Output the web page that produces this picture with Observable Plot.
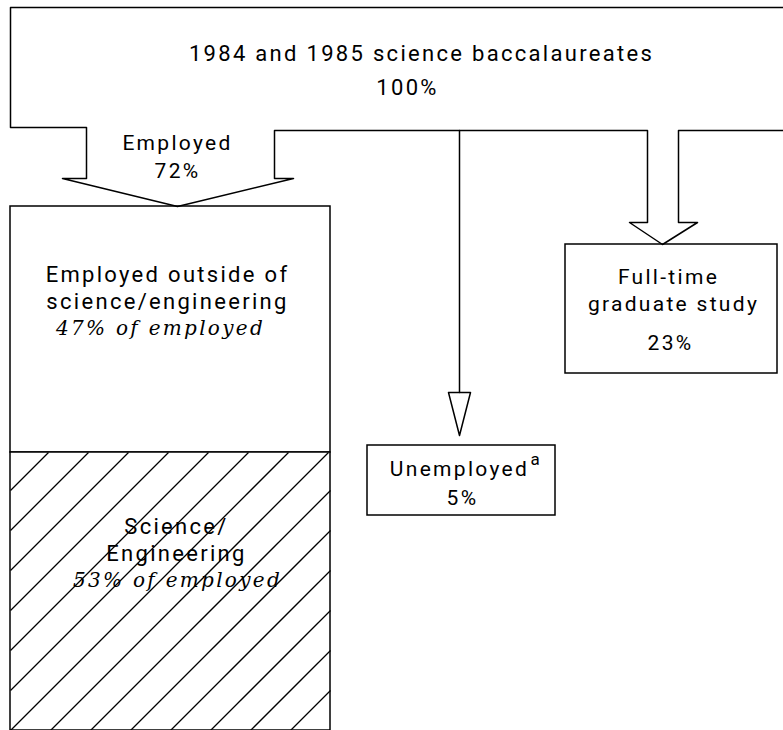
<!DOCTYPE html>
<html>
<head>
<meta charset="utf-8">
<script src="https://cdn.jsdelivr.net/npm/d3@7"></script>
<script src="https://cdn.jsdelivr.net/npm/@observablehq/plot@0.6"></script>
<style>
  html, body { margin: 0; padding: 0; background: #fff; }
  #chart svg { display: block; }
</style>
</head>
<body>
<div id="chart"></div>
<script>
// ---- data ----
const groups = ["All baccalaureates", "Employed", "Unemployed", "Full-time graduate study", "Employed outside of science/engineering", "Science/Engineering"];
const shares = [100, 72, 5, 23, 47, 53];
const titleText = "1984 and 1985 science baccalaureates";
const employedLines = ["Employed"];
const outsideLines = ["Employed outside of", "science/engineering"];
const sciLines = ["Science/", "Engineering"];
const unemployedLines = ["Unemployed"];
const footnoteMark = "a";
const gradLines = ["Full-time", "graduate study"];
const ofEmployed = "of employed";

// ---- layout (diagram geometry in pixel units of the scales) ----
const W = 783, H = 730;
const L = {
  topY: 7, topBottomY: 127, left: 10, rail: 130,
  emp: {shaftL: 86, shaftR: 274, headY: 178, headL: 62, headR: 293, tipX: 177, tipY: 206},
  unemp: {x: 459, headY: 392, headL: 448, headR: 470, tipY: 435},
  grad: {shaftL: 647, shaftR: 678, headY: 222, headL: 629, headR: 697, tipX: 662, tipY: 244},
  empBox: {x1: 10, x2: 330, y1: 206, y2: 730, split: 452},
  unempBox: {x1: 367, x2: 555, y1: 445, y2: 515},
  gradBox: {x1: 565, x2: 777, y1: 244, y2: 373},
  hatch: {start: 500, step: 40}
};

// outline path of the top block with the two wide arrows
const outline = [
  [W, L.topY], [L.left, L.topY], [L.left, L.topBottomY], [L.emp.shaftL, L.topBottomY],
  [L.emp.shaftL, L.emp.headY], [L.emp.headL, L.emp.headY], [L.emp.tipX, L.emp.tipY],
  [L.emp.headR, L.emp.headY], [L.emp.shaftR, L.emp.headY], [L.emp.shaftR, L.rail],
  [L.grad.shaftL, L.rail], [L.grad.shaftL, L.grad.headY], [L.grad.headL, L.grad.headY],
  [L.grad.tipX, L.grad.tipY], [L.grad.headR, L.grad.headY], [L.grad.shaftR, L.grad.headY],
  [L.grad.shaftR, L.rail], [W, L.rail]
].map(([x, y]) => ({x, y, path: "outline"}));
const unempLine = [[L.unemp.x, L.rail], [L.unemp.x, L.unemp.headY]].map(([x, y]) => ({x, y, path: "unempLine"}));
const unempHead = [[L.unemp.headL, L.unemp.headY], [L.unemp.headR, L.unemp.headY], [L.unemp.x, L.unemp.tipY], [L.unemp.headL, L.unemp.headY]]
  .map(([x, y]) => ({x, y, path: "unempHead"}));
const paths = [...outline, ...unempLine, ...unempHead];

const boxes = [
  {name: groups[4], ...L.empBox, y2: L.empBox.split},
  {name: groups[5], ...L.empBox, y1: L.empBox.split},
  {name: groups[2], ...L.unempBox},
  {name: groups[3], ...L.gradBox}
];

// hatch lines x + y = c ("/" direction on screen) clipped to the science/engineering rectangle
const hb = {x1: L.empBox.x1, x2: L.empBox.x2, y1: L.empBox.split, y2: L.empBox.y2};
const hatch = [];
for (let c = L.hatch.start; c < hb.x2 + hb.y2; c += L.hatch.step) {
  let xa = hb.x1, ya = c - hb.x1;          // lower-left end
  if (ya > hb.y2) { ya = hb.y2; xa = c - hb.y2; }
  let xb = hb.x2, yb = c - hb.x2;          // upper-right end
  if (yb < hb.y1) { yb = hb.y1; xb = c - hb.y1; }
  if (xa < xb) hatch.push({x1: xa, y1: ya, x2: xb, y2: yb});
}

const sansFont = "Roboto, 'Open Sans', sans-serif";
const serifFont = "'DejaVu Serif', 'Liberation Serif', serif";

const sansTexts = [
  {t: titleText, x: 421, y: 53, s: 22},
  {t: `${shares[0]}%`, x: 407, y: 87, s: 22},
  {t: employedLines[0], x: 177, y: 143, s: 21},
  {t: `${shares[1]}%`, x: 177, y: 171, s: 21},
  {t: outsideLines[0], x: 167, y: 274, s: 22},
  {t: outsideLines[1], x: 167, y: 301, s: 22},
  {t: sciLines[0], x: 176, y: 526, s: 22},
  {t: sciLines[1], x: 176, y: 553, s: 22},
  {t: unemployedLines[0], x: 459, y: 469, s: 21},
  {t: `${shares[2]}%`, x: 462, y: 498, s: 21},
  {t: gradLines[0], x: 668, y: 277, s: 21},
  {t: gradLines[1], x: 673, y: 304, s: 21},
  {t: `${shares[3]}%`, x: 670, y: 343, s: 21}
];
const serifTexts = [
  {t: `${shares[4]}% ${ofEmployed}`, x: 160, y: 328},
  {t: `${shares[5]}% ${ofEmployed}`, x: 177, y: 580}
];

const chart = Plot.plot({
  width: W, height: H, margin: 0,
  x: {domain: [0, W], range: [0, W], axis: null},
  y: {domain: [0, H], range: [0, H], axis: null},
  style: {background: "#fff", color: "#000", letterSpacing: "2.3px"},
  marks: [
    Plot.rect(boxes, {x1: "x1", x2: "x2", y1: "y1", y2: "y2", fill: "#fff", stroke: "#000", strokeWidth: 1.5}),
    Plot.link(hatch, {x1: "x1", y1: "y1", x2: "x2", y2: "y2", stroke: "#000", strokeWidth: 1.3, curve: "linear"}),
    Plot.line(paths, {x: "x", y: "y", z: "path", stroke: "#000", strokeWidth: 1.5, curve: "linear"}),
    Plot.text(sansTexts, {x: "x", y: "y", text: "t", fontSize: d => d.s, fontFamily: sansFont, fill: "#000"}),
    Plot.text([footnoteMark], {x: () => 530, y: () => 459, text: d => d, fontSize: 17, fontFamily: sansFont, textAnchor: "start", fill: "#000"}),
    Plot.text(serifTexts, {x: "x", y: "y", text: "t", fontSize: 20, fontFamily: serifFont, fontStyle: "italic", fill: "#000"})
  ]
});
document.getElementById("chart").appendChild(chart);
</script>
</body>
</html>
